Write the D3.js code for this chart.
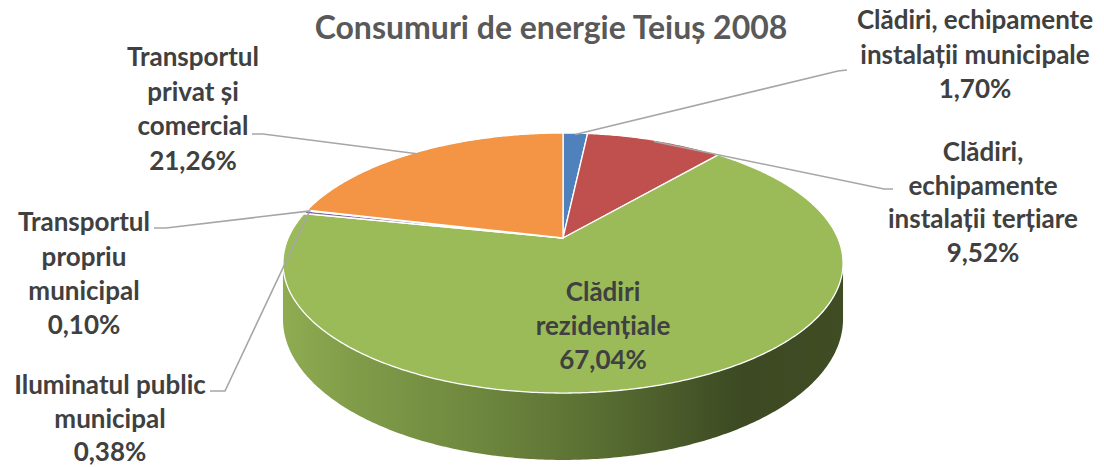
<!DOCTYPE html>
<html>
<head>
<meta charset="utf-8">
<script src="https://cdn.jsdelivr.net/npm/d3@7"></script>
<style>
  html, body { margin: 0; padding: 0; background: #fff; }
  svg { display: block; }
</style>
</head>
<body>
<svg id="chart" width="1104" height="467"></svg>
<script>
// ---- data ----
const title = "Consumuri de energie Teiuș 2008";
const categories = [
  "Clădiri, echipamente instalații municipale",
  "Clădiri, echipamente instalații terțiare",
  "Clădiri rezidențiale",
  "Iluminatul public municipal",
  "Transportul propriu municipal",
  "Transportul privat și comercial"
];
const values = [1.70, 9.52, 67.04, 0.38, 0.10, 21.26];
const valueLabels = ["1,70%", "9,52%", "67,04%", "0,38%", "0,10%", "21,26%"];
const categoryLines = [
  ["Clădiri, echipamente", "instalații municipale"],
  ["Clădiri,", "echipamente", "instalații terțiare"],
  ["Clădiri", "rezidențiale"],
  ["Iluminatul public", "municipal"],
  ["Transportul", "propriu", "municipal"],
  ["Transportul", "privat și", "comercial"]
];

// ---- styles / layout ----
const colors = ["#4F81BD", "#C0504D", "#9BBB59", "#8064A2", "#4BACC6", "#F39545"];
const labelLayout = [
  { x: 975, y: 20,  lh: 34.5, bend: [838, 71],  end: [847, 70] },
  { x: 983, y: 152, lh: 33.5, bend: [884, 189], end: [893, 189] },
  { x: 603, y: 292, lh: 34,   bend: null, end: null },
  { x: 110, y: 385, lh: 33.3, bend: [225, 391], end: [210, 391] },
  { x: 84,  y: 222, lh: 34.3, bend: [166, 228], end: [154, 228] },
  { x: 193, y: 57,  lh: 34.5, bend: [263, 134], end: [252, 134] }
];

const svg = d3.select("#chart");

// perspective pie projection
const cx = 563, cy = 238, A = 274.8, B = 125.2, K = -0.1925, DEPTH = 54;
function proj(theta, r = 1, depth = 0) {
  const x = r * Math.sin(theta), z = -r * Math.cos(theta);
  const w = 1 + K * z;
  return [cx + A * x / w, cy + B * z / w + depth / w];
}
function arcPts(a0, a1, depth) {
  const n = Math.max(2, Math.ceil(Math.abs(a1 - a0) / 0.01));
  return d3.range(n + 1).map(i => proj(a0 + (a1 - a0) * i / n, 1, depth));
}

const pie = d3.pie().sort(null).value(d => d)
  .startAngle(0).endAngle(2 * Math.PI);
const arcs = pie(values);
const line = d3.line();

// side gradient
const defs = svg.append("defs");
const grad = defs.append("linearGradient").attr("id", "sideGrad")
  .attr("gradientUnits", "userSpaceOnUse")
  .attr("x1", cx - A * 1.02).attr("x2", cx + A * 1.02).attr("y1", 0).attr("y2", 0);
[[0, "#8FAC52"], [0.12, "#819D49"], [0.35, "#6E873E"], [0.55, "#5A7033"], [0.82, "#3C4922"], [1, "#3F4C24"]]
  .forEach(([o, c]) => grad.append("stop").attr("offset", o).attr("stop-color", c));

// visible side range
const thR = Math.acos(K), thL = 2 * Math.PI - Math.acos(K);
const gSide = svg.append("g");
arcs.forEach((a, i) => {
  const s = Math.max(a.startAngle, thR), e = Math.min(a.endAngle, thL);
  if (e <= s) return;
  const top = arcPts(s, e, 0);
  const bot = arcPts(e, s, DEPTH);
  gSide.append("path")
    .attr("d", line(top.concat(bot)) + "Z")
    .attr("fill", i === 2 ? "url(#sideGrad)" : d3.color(colors[i]).darker(1))
    .attr("stroke", "none");
});

// top faces
const gTop = svg.append("g");
arcs.forEach((a, i) => {
  const pts = [[cx, cy]].concat(arcPts(a.startAngle, a.endAngle, 0));
  gTop.append("path")
    .attr("d", line(pts) + "Z")
    .attr("fill", colors[i])
    .attr("stroke", "#fff")
    .attr("stroke-width", 1.3)
    .attr("stroke-linejoin", "round");
});

// leader lines
const gLead = svg.append("g");
arcs.forEach((a, i) => {
  const L = labelLayout[i];
  if (!L.bend) return;
  const mid = (a.startAngle + a.endAngle) / 2;
  const p = proj(mid, 0.985, 0);
  gLead.append("path")
    .attr("d", line([p, L.bend, L.end]))
    .attr("fill", "none")
    .attr("stroke", "#A6A6A6")
    .attr("stroke-width", 1.6);
});

// labels
const font = "Lato, 'Open Sans', sans-serif";
const gLab = svg.append("g")
  .attr("font-family", font)
  .attr("font-weight", "bold")
  .attr("font-size", 26)
  .attr("fill", "#404040")
  .attr("text-anchor", "middle");
arcs.forEach((a, i) => {
  const L = labelLayout[i];
  const lines = categoryLines[i].concat([valueLabels[i]]);
  lines.forEach((t, j) => {
    gLab.append("text")
      .attr("x", L.x)
      .attr("y", L.y + j * L.lh)
      .attr("dy", "0.36em")
      .text(t);
  });
});

// title
svg.append("text")
  .attr("x", 551).attr("y", 39)
  .attr("text-anchor", "middle")
  .attr("font-family", font)
  .attr("font-weight", "bold")
  .attr("font-size", 32)
  .attr("fill", "#595959")
  .text(title);
</script>
</body>
</html>
